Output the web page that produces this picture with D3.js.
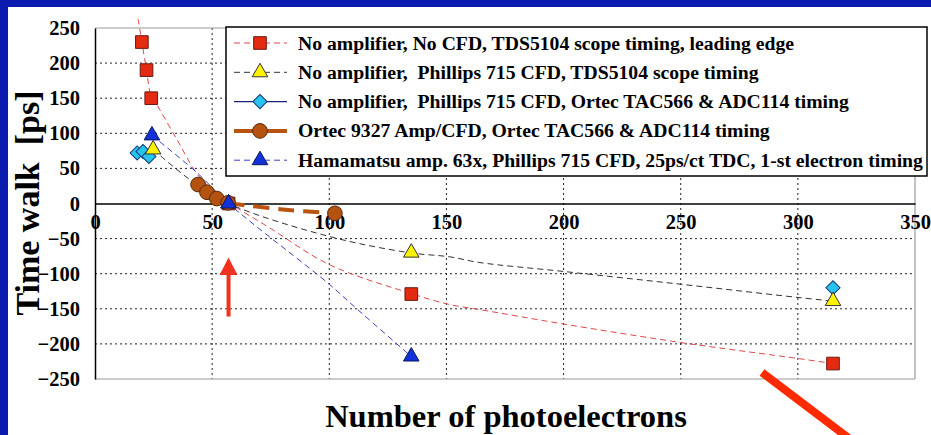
<!DOCTYPE html>
<html>
<head>
<meta charset="utf-8">
<script src="https://cdn.jsdelivr.net/npm/d3@7"></script>
<style>
  html, body { margin: 0; padding: 0; background: #0b1aaf; }
  svg { display: block; }
  text { font-family: "Liberation Serif", "Times New Roman", serif; font-weight: bold; white-space: pre; }
</style>
</head>
<body>
<svg id="chart" width="931" height="435"></svg>
<script>
// ---------- data ----------
const xTicks = [0, 50, 100, 150, 200, 250, 300, 350];
const yTicks = [-250, -200, -150, -100, -50, 0, 50, 100, 150, 200, 250];

const seriesNames = [
  "No amplifier, No CFD, TDS5104 scope timing, leading edge",
  "No amplifier,  Phillips 715 CFD, TDS5104 scope timing",
  "No amplifier,  Phillips 715 CFD, Ortec TAC566 & ADC114 timing",
  "Ortec 9327 Amp/CFD, Ortec TAC566 & ADC114 timing",
  "Hamamatsu amp. 63x, Phillips 715 CFD, 25ps/ct TDC, 1-st electron timing"
];

// measured points
const redX = [20, 22, 24, 57, 135, 315];
const redY = [230, 190, 150, 0, -129, -228];
const yellowX = [24.8, 57, 135, 315];
const yellowY = [77, 0, -70, -139];
const cyanX = [18, 20.5, 23, 315];
const cyanY = [72, 74, 67, -120];
const brownX = [44, 47.8, 52, 56.8, 102.4];
const brownY = [27, 16, 7, 1, -14];
const blueX = [24.3, 57, 135];
const blueY = [97, 0, -218];

// trend curves
const redTrendX = [18.4, 20, 22, 24, 26.3, 35, 44.8, 57.5, 74.7, 100, 134.7, 151.5, 164, 200.6, 250, 300.5, 315];
const redTrendY = [263, 230, 190, 152, 141, 91, 37, 1, -35, -87, -128, -144, -151, -172, -198, -221, -228];
const blackTrendX = [24.8, 40.5, 57, 100, 134, 151.5, 164, 200.6, 250, 300.5, 315];
const blackTrendY = [77, 34, 0, -47, -70, -76, -84, -97, -115, -134, -139];
const blueTrendX = [24.3, 43.5, 57, 100, 109.7, 135];
const blueTrendY = [97, 44, 0, -115, -144, -218];
const brownTrendX = [57, 61.5, 80, 102.4];
const brownTrendY = [0, -1.5, -8.5, -14];

// ---------- drawing ----------
const svg = d3.select("#chart");
svg.append("rect").attr("x", 0).attr("y", 0).attr("width", 931).attr("height", 435).attr("fill", "#0b1aaf");
svg.append("rect").attr("x", 8).attr("y", 7).attr("width", 923).attr("height", 428).attr("fill", "#ffffff");

const x = d3.scaleLinear().domain([0, 350]).range([95, 915]);
const y = d3.scaleLinear().domain([-250, 250]).range([379, 28]);

// gridlines
const grid = svg.append("g");
grid.selectAll("line.vg").data(xTicks.filter(t => t > 0 && t < 350)).join("line")
  .attr("x1", d => x(d)).attr("x2", d => x(d)).attr("y1", y(250)).attr("y2", y(-250))
  .attr("stroke", "#222").attr("stroke-width", 1).attr("stroke-dasharray", "2,3");
grid.selectAll("line.hg").data(yTicks.filter(t => t !== 0 && t > -250 && t < 250)).join("line")
  .attr("x1", x(0)).attr("x2", x(350)).attr("y1", d => y(d)).attr("y2", d => y(d))
  .attr("stroke", "#222").attr("stroke-width", 1).attr("stroke-dasharray", "2,3");

// frame
svg.append("line").attr("x1", x(0)).attr("x2", x(350)).attr("y1", y(250)).attr("y2", y(250)).attr("stroke", "#9a9a9a").attr("stroke-width", 1.2);
svg.append("line").attr("x1", x(0)).attr("x2", x(350)).attr("y1", y(-250)).attr("y2", y(-250)).attr("stroke", "#9a9a9a").attr("stroke-width", 1.2);
svg.append("line").attr("x1", x(350)).attr("x2", x(350)).attr("y1", y(250)).attr("y2", y(-250)).attr("stroke", "#9a9a9a").attr("stroke-width", 1.2);

// axes
const yAxis = d3.axisLeft(y).tickValues(yTicks).tickSize(0).tickPadding(15).tickFormat(d3.format("d"));
const gy = svg.append("g").attr("transform", `translate(${x(0)},0)`).call(yAxis);
gy.select(".domain").attr("stroke", "#000").attr("stroke-width", 1.5);
gy.selectAll("text").attr("font-size", 20.5).attr("fill", "#000")
  .style("font-family", "'Liberation Serif', serif").style("font-weight", "bold");

const xAxis = d3.axisBottom(x).tickValues(xTicks).tickSize(0).tickPadding(11).tickFormat(d3.format("d"));
const gx = svg.append("g").attr("transform", `translate(0,${y(0)})`).call(xAxis);
gx.select(".domain").attr("stroke", "#000").attr("stroke-width", 1.5);
gx.selectAll("text").attr("font-size", 20.5).attr("fill", "#000")
  .style("font-family", "'Liberation Serif', serif").style("font-weight", "bold");

// axis titles
svg.append("text").attr("x", 506).attr("y", 427).attr("text-anchor", "middle")
  .attr("font-size", 32.5).attr("fill", "#000").text("Number of photoelectrons");
svg.append("text").attr("transform", `translate(39,203) rotate(-90)`).attr("text-anchor", "middle")
  .attr("font-size", 34).attr("fill", "#000").text("Time walk  [ps]");

// trend lines
const zip = (xs, ys) => xs.map((v, i) => [v, ys[i]]);
const lineGen = d3.line().x(d => x(d[0])).y(d => y(d[1])).curve(d3.curveCatmullRom.alpha(0.5));

svg.append("path").datum(zip(blackTrendX, blackTrendY)).attr("d", lineGen)
  .attr("fill", "none").attr("stroke", "#333").attr("stroke-width", 1).attr("stroke-dasharray", "6,4");
svg.append("path").datum(zip(redTrendX, redTrendY)).attr("d", lineGen)
  .attr("fill", "none").attr("stroke", "#e0474a").attr("stroke-width", 1).attr("stroke-dasharray", "6,4");
svg.append("path").datum(zip(blueTrendX, blueTrendY)).attr("d", lineGen)
  .attr("fill", "none").attr("stroke", "#3a40c0").attr("stroke-width", 1).attr("stroke-dasharray", "6,4");
svg.append("path").datum(zip(brownTrendX, brownTrendY)).attr("d", lineGen)
  .attr("fill", "none").attr("stroke", "#b8540f").attr("stroke-width", 4).attr("stroke-dasharray", "16,9");

// markers
const symSquare = d3.symbol().type(d3.symbolSquare).size(160);
const symTri = d3.symbol().type(d3.symbolTriangle).size(105);
const symDiamond = d3.symbol().type(d3.symbolSquare).size(100);
const symCircle = d3.symbol().type(d3.symbolCircle).size(170);

const styles = [
  { sym: symSquare, fill: "#e52a12", stroke: "#6b1a10", rot: 0 },
  { sym: symTri, fill: "#fff200", stroke: "#333", rot: 0 },
  { sym: symDiamond, fill: "#28c3ee", stroke: "#123a7a", rot: 45 },
  { sym: symCircle, fill: "#b3530f", stroke: "#5a2806", rot: 0 },
  { sym: symTri, fill: "#1231d6", stroke: "#0a1660", rot: 0 }
];

function drawMarkers(xs, ys, st) {
  svg.append("g").selectAll("path").data(zip(xs, ys)).join("path")
    .attr("d", st.sym)
    .attr("transform", d => `translate(${x(d[0])},${y(d[1])}) rotate(${st.rot})`)
    .attr("fill", st.fill).attr("stroke", st.stroke).attr("stroke-width", 1);
}
drawMarkers(redX, redY, styles[0]);
drawMarkers(cyanX, cyanY, styles[2]);
drawMarkers(yellowX, yellowY, styles[1]);
drawMarkers(brownX, brownY, styles[3]);
drawMarkers(blueX, blueY, styles[4]);

// legend
const lg = svg.append("g");
lg.append("rect").attr("x", 226).attr("y", 27).attr("width", 701).attr("height", 149)
  .attr("fill", "#fff").attr("stroke", "#000").attr("stroke-width", 1.5);
const legLines = [
  { stroke: "#e0474a", w: 1, dash: "6,4" },
  { stroke: "#333", w: 1, dash: "6,4" },
  { stroke: "#1a237e", w: 1.2, dash: null },
  { stroke: "#b8540f", w: 4, dash: null },
  { stroke: "#3a40c0", w: 1, dash: "6,4" }
];
seriesNames.forEach((name, i) => {
  const cy = 43 + i * 29.3;
  lg.append("line").attr("x1", 234).attr("x2", 287).attr("y1", cy).attr("y2", cy)
    .attr("stroke", legLines[i].stroke).attr("stroke-width", legLines[i].w)
    .attr("stroke-dasharray", legLines[i].dash);
  lg.append("path").attr("d", styles[i].sym).attr("transform", `translate(260,${cy}) rotate(${styles[i].rot})`)
    .attr("fill", styles[i].fill).attr("stroke", styles[i].stroke).attr("stroke-width", 1);
  lg.append("text").attr("x", 298).attr("y", cy + 6.5).attr("font-size", 19.7).attr("fill", "#000").text(name);
});

// red annotations
const arrowX = 57;
svg.append("line").attr("x1", x(arrowX)).attr("x2", x(arrowX)).attr("y1", y(-161)).attr("y2", y(-98))
  .attr("stroke", "#f0321e").attr("stroke-width", 4);
svg.append("path")
  .attr("d", `M${x(arrowX)},${y(-77)} L${x(arrowX) - 9},${y(-102)} L${x(arrowX) + 9},${y(-102)} Z`)
  .attr("fill", "#f0321e");
svg.append("line").attr("x1", x(284.7)).attr("y1", y(-240.7)).attr("x2", x(324)).attr("y2", y(-340))
  .attr("stroke", "#ff2a00").attr("stroke-width", 8);
</script>
</body>
</html>
